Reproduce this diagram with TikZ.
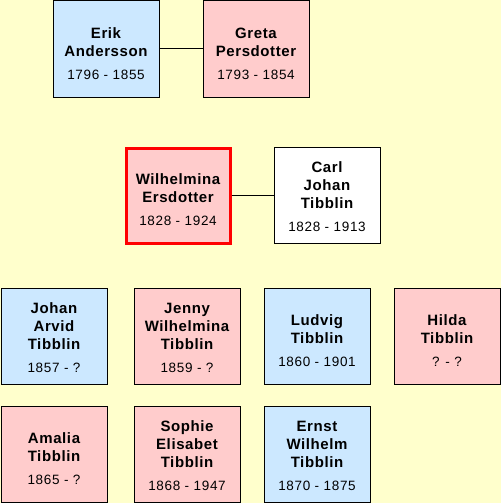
\documentclass[tikz,border=0pt]{standalone}
\usepackage{fontspec}
\setmainfont{Liberation Sans}
\newfontfamily\namefont[LetterSpace=4]{Liberation Sans}
\newfontfamily\datefont[LetterSpace=5]{Liberation Sans}
\definecolor{bgc}{HTML}{FFFFCC}
\definecolor{male}{HTML}{CCE8FF}
\definecolor{female}{HTML}{FFCCCC}
\newcommand\nm[1]{{\namefont\bfseries #1}}
\newcommand\dt[1]{{\datefont\fontsize{13.5}{18}\selectfont #1}}
\newcommand\twoup{\rule{0pt}{20pt}}
\newcommand\threeup{\rule{0pt}{14pt}}
\begin{document}
\begin{tikzpicture}[x=1pt,y=-1pt,
  person/.style={draw=black, line width=1pt, inner sep=0pt, anchor=north west,
    minimum width=106pt, minimum height=96pt, align=center,
    font=\fontsize{15}{18}\selectfont},
  man/.style={person, fill=male},
  woman/.style={person, fill=female},
  other/.style={person, fill=white},
  focus/.style={woman, draw=red, line width=3pt, minimum width=104pt, minimum height=95pt},
  link/.style={draw=black, line width=1pt}]
\fill[bgc] (0,0) rectangle (501,503);
\useasboundingbox (0,0) rectangle (501,503);
\node[man] (erik) at (52.5,0.5) {\twoup\nm{Erik}\\\nm{Andersson}\\[5pt]\dt{1796 - 1855}};
\node[woman] (greta) at (202.5,0.5) {\twoup\nm{Greta}\\\nm{Persdotter}\\[5pt]\dt{1793 - 1854}};
\node[focus] (wil) at (124.5,146.5) {\twoup\nm{Wilhelmina}\\\nm{Ersdotter}\\[5pt]\dt{1828 - 1924}};
\node[other] (carl) at (273.5,146.5) {\threeup\nm{Carl}\\\nm{Johan}\\\nm{Tibblin}\\[5pt]\dt{1828 - 1913}};
\node[man] (johan) at (0.5,287.5) {\threeup\nm{Johan}\\\nm{Arvid}\\\nm{Tibblin}\\[5pt]\dt{1857 - ?}};
\node[woman] (jenny) at (133.5,287.5) {\threeup\nm{Jenny}\\\nm{Wilhelmina}\\\nm{Tibblin}\\[5pt]\dt{1859 - ?}};
\node[man] (ludvig) at (263.5,287.5) {\twoup\nm{Ludvig}\\\nm{Tibblin}\\[5pt]\dt{1860 - 1901}};
\node[woman] (hilda) at (393.5,287.5) {\twoup\nm{Hilda}\\\nm{Tibblin}\\[5pt]\dt{? - ?}};
\node[woman] (amalia) at (0.5,405.5) {\twoup\nm{Amalia}\\\nm{Tibblin}\\[5pt]\dt{1865 - ?}};
\node[woman] (sophie) at (133.5,405.5) {\threeup\nm{Sophie}\\\nm{Elisabet}\\\nm{Tibblin}\\[5pt]\dt{1868 - 1947}};
\node[man] (ernst) at (263.5,405.5) {\threeup\nm{Ernst}\\\nm{Wilhelm}\\\nm{Tibblin}\\[5pt]\dt{1870 - 1875}};
\draw[link] (erik.east) -- (greta.west);
\draw[link] (wil.east) -- (carl.west |- wil.east);
\end{tikzpicture}
\end{document}
